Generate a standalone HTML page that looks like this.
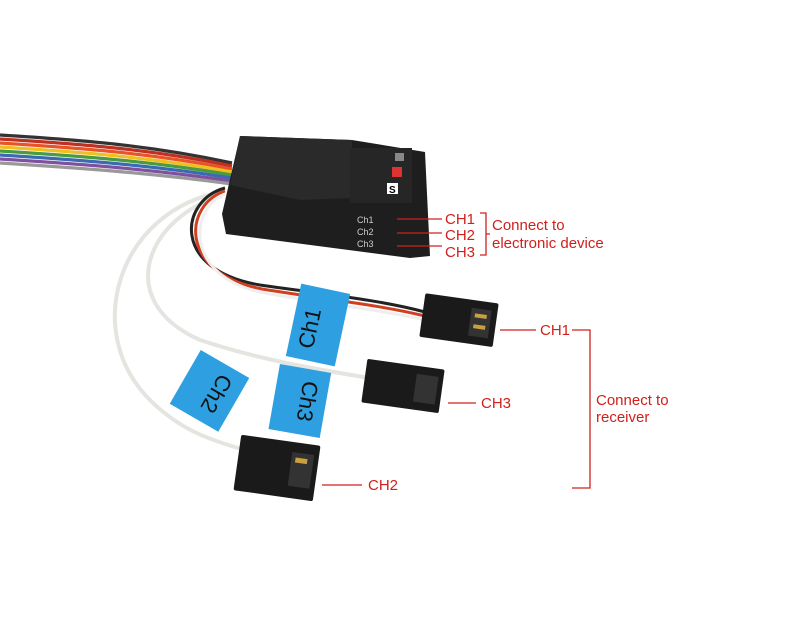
<!DOCTYPE html>
<html><head><style>body{margin:0;background:#fff}svg{display:block}text{font-family:"Liberation Sans",sans-serif;fill:#d0201c;font-size:15px}</style></head><body>
<svg width="800" height="620" viewBox="0 0 800 620">
<!-- rainbow bundle -->
<g fill="none" stroke-width="3.2">
<path d="M0 135 C80 140 150 145 232 163" stroke="#333"/>
<path d="M0 139 C80 144 150 149 232 166" stroke="#c03020"/>
<path d="M0 143 C80 148 150 153 232 169" stroke="#e8532a"/>
<path d="M0 147 C80 152 150 157 232 172" stroke="#f0c020"/>
<path d="M0 151 C80 156 150 161 232 175" stroke="#4a9a40"/>
<path d="M0 155 C80 160 150 165 232 178" stroke="#3a6ab0"/>
<path d="M0 159 C80 164 150 169 232 181" stroke="#8050a0"/>
<path d="M0 163 C80 168 150 173 232 184" stroke="#999"/>
</g>
<!-- white wires -->
<path d="M222 192 C120 210 80 330 150 400 C180 430 210 440 245 450" fill="none" stroke="#e4e4e0" stroke-width="4"/>
<path d="M222 196 C150 215 110 300 200 340 C260 360 320 370 370 378" fill="none" stroke="#e4e4e0" stroke-width="4"/>
<!-- black/red wire -->
<path d="M225 188 C180 200 170 270 260 285 C330 295 380 300 425 312" fill="none" stroke="#222" stroke-width="3"/>
<path d="M225 191 C185 204 176 272 262 289 C330 300 380 305 425 316" fill="none" stroke="#d04020" stroke-width="3"/>
<path d="M225 194 C190 208 182 276 264 293 C330 304 380 310 425 320" fill="none" stroke="#eee" stroke-width="3"/>
<!-- tapes -->
<g transform="rotate(12 318 325)"><rect x="293" y="288" width="50" height="74" fill="#2e9fe0"/><text x="318" y="330" transform="rotate(-90 318 330)" text-anchor="middle" style="fill:#111;font-size:22px">Ch1</text></g>
<g transform="rotate(10 300 400)"><rect x="274" y="368" width="52" height="66" fill="#2e9fe0"/><text x="300" y="400" transform="rotate(90 300 400)" text-anchor="middle" style="fill:#111;font-size:22px">Ch3</text></g>
<g transform="rotate(30 210 390)"><rect x="182" y="360" width="56" height="62" fill="#2e9fe0"/><text x="210" y="390" transform="rotate(90 210 390)" text-anchor="middle" style="fill:#111;font-size:22px">Ch2</text></g>
<!-- connectors -->
<g transform="rotate(8 458 320)"><rect x="422" y="298" width="74" height="44" fill="#1a1a1a" rx="2"/><rect x="470" y="306" width="20" height="28" fill="#333"/><rect x="474" y="311" width="12" height="4" fill="#c9a040"/><rect x="474" y="322" width="12" height="4" fill="#c9a040"/></g>
<g transform="rotate(8 403 386)"><rect x="364" y="364" width="78" height="44" fill="#1a1a1a" rx="2"/><rect x="415" y="372" width="22" height="28" fill="#333"/></g>
<g transform="rotate(8 277 468)"><rect x="237" y="440" width="80" height="56" fill="#1a1a1a" rx="2"/><rect x="290" y="450" width="22" height="34" fill="#333"/><rect x="294" y="455" width="12" height="5" fill="#c9a040"/></g>
<!-- device -->
<polygon points="240,136 352,140 425,152 430,256 410,258 226,234 222,214" fill="#1e1e1e"/>
<polygon points="240,136 352,140 352,198 300,200 230,185" fill="#2a2a2a"/>
<rect x="350" y="148" width="62" height="55" fill="#262626"/>
<rect x="395" y="153" width="9" height="8" fill="#888"/>
<rect x="392" y="167" width="10" height="10" fill="#d33"/>
<rect x="387" y="183" width="11" height="11" fill="#fff"/><text x="389" y="193" style="fill:#000;font-size:10px;font-weight:bold">S</text>
<g font-size="9" style="fill:#ccc"><text x="357" y="223" style="fill:#ccc;font-size:9px">Ch1</text><text x="357" y="235" style="fill:#ccc;font-size:9px">Ch2</text><text x="357" y="247" style="fill:#ccc;font-size:9px">Ch3</text></g>
<!-- labels -->
<g stroke="#d0201c" stroke-width="1.3" fill="none">
<path d="M397 219H442M397 233H442M397 246H442"/>
<path d="M480 213H486V255H480M486 234H490"/>
<path d="M500 330H536M448 403H476M322 485H362"/>
<path d="M572 330H590V488H572"/>
</g>
<text x="445" y="224">CH1</text><text x="445" y="240">CH2</text><text x="445" y="257">CH3</text>
<text x="492" y="230">Connect to</text><text x="492" y="248">electronic device</text>
<text x="540" y="335">CH1</text><text x="481" y="408">CH3</text><text x="368" y="490">CH2</text>
<text x="596" y="405">Connect to</text><text x="596" y="422">receiver</text>
</svg></body></html>
